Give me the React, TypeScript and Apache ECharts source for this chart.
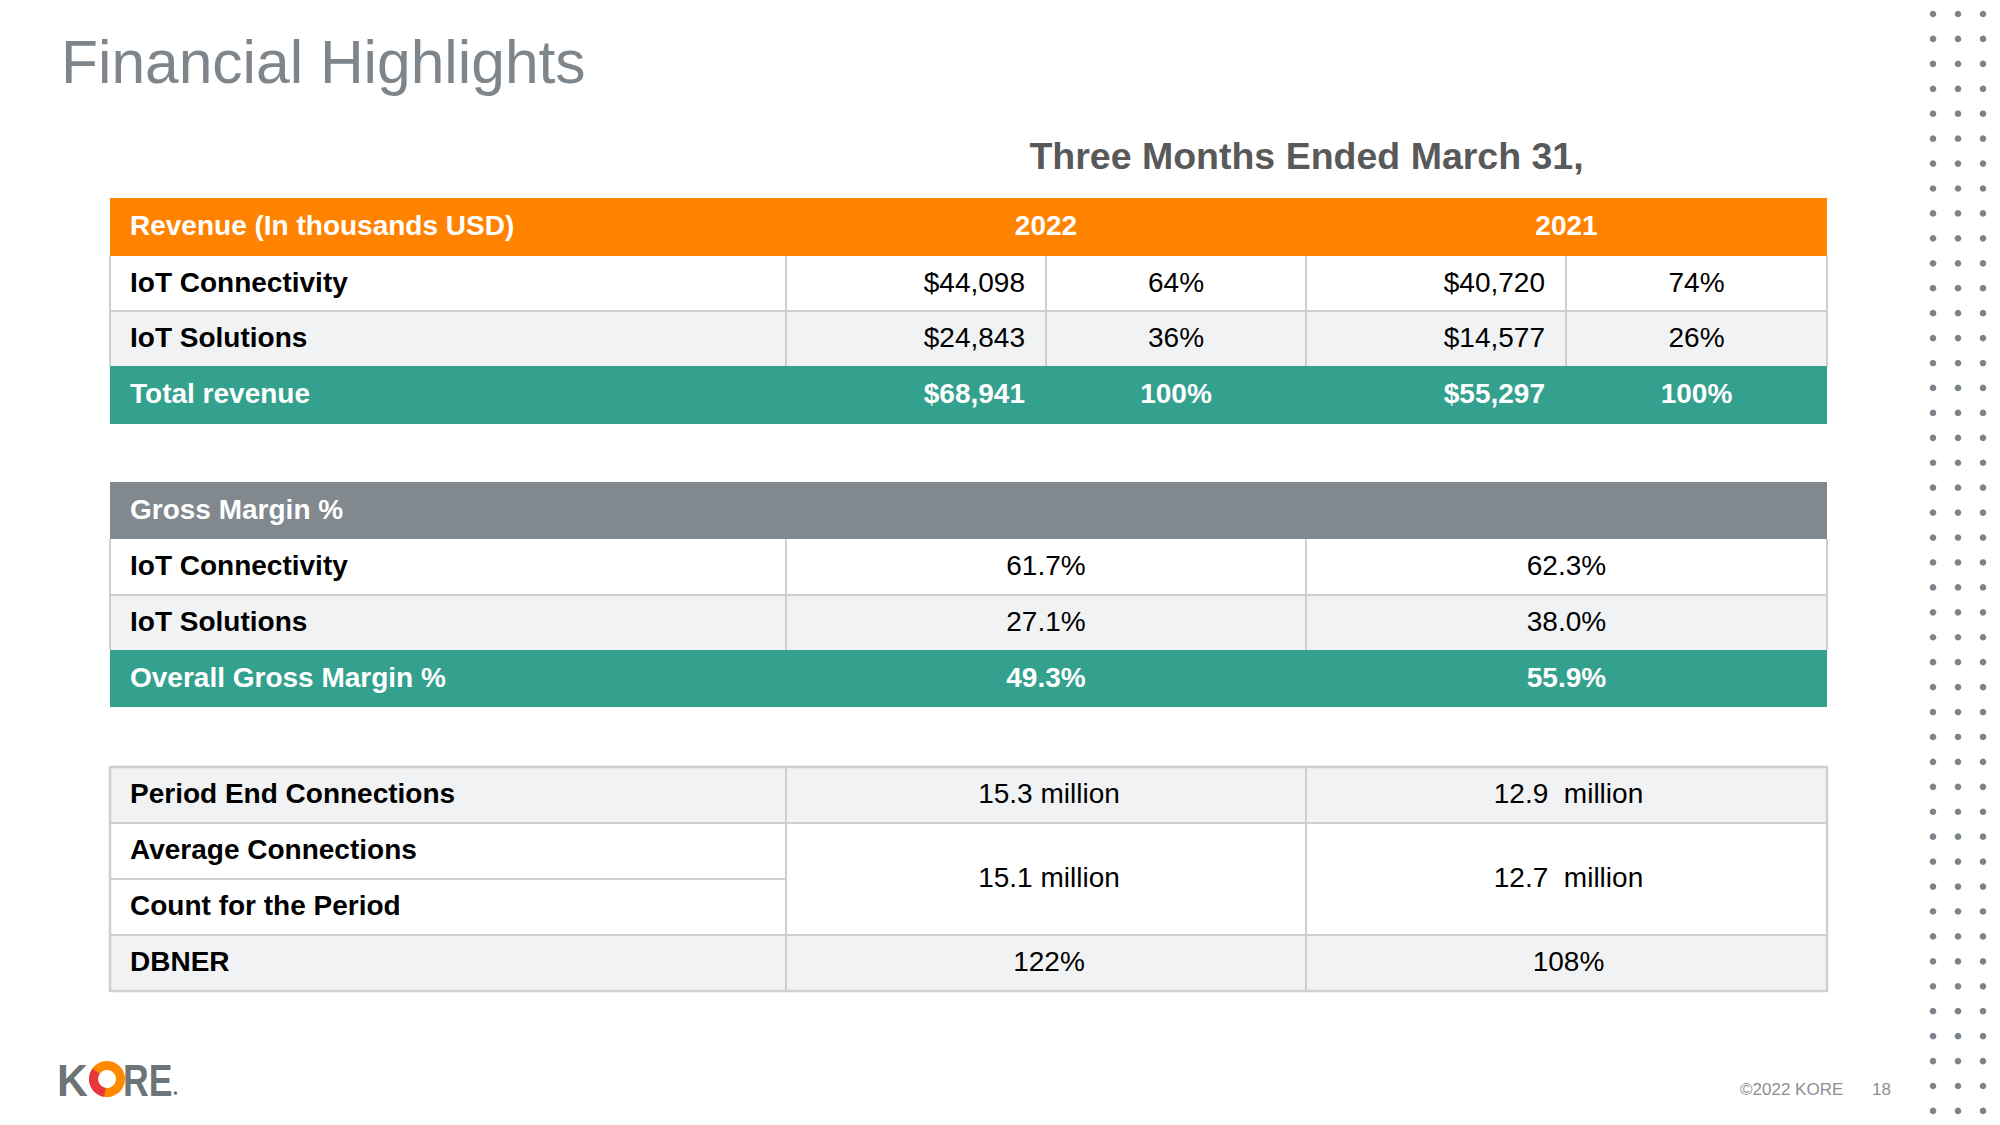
import React, { useEffect, useRef } from "react";
import * as echarts from "echarts";

// ---------- data ----------
const pageTitle = "Financial Highlights";
const periodTitle = "Three Months Ended March 31,";
const years = ["2022", "2021"];

const revenueHeader = "Revenue (In thousands USD)";
const revenueLabels = ["IoT Connectivity", "IoT Solutions", "Total revenue"];
const revenue2022 = ["$44,098", "$24,843", "$68,941"];
const share2022 = ["64%", "36%", "100%"];
const revenue2021 = ["$40,720", "$14,577", "$55,297"];
const share2021 = ["74%", "26%", "100%"];

const marginHeader = "Gross Margin %";
const marginLabels = ["IoT Connectivity", "IoT Solutions", "Overall Gross Margin %"];
const margin2022 = ["61.7%", "27.1%", "49.3%"];
const margin2021 = ["62.3%", "38.0%", "55.9%"];

const kpiLabels = ["Period End Connections", "Average Connections", "Count for the Period", "DBNER"];
const kpi2022 = ["15.3 million", "15.1 million", "122%"];
const kpi2021 = ["12.9  million", "12.7  million", "108%"];

const footerText = "©2022 KORE";
const pageNumber = "18";

// ---------- layout / style ----------
const FONT = '"Liberation Sans", Arial, Helvetica, sans-serif';
const COLS = [110, 786, 1046, 1306, 1566, 1827];
const T1 = [198, 256, 311, 366, 424];
const T2 = [482, 539, 595, 650, 707];
const T3 = [767, 823, 879, 935, 991];
const ORANGE = "#FF8300";
const TEAL = "#33A18E";
const GRAYHDR = "#81888E";
const LIGHT = "#F1F2F4";
const BORDER = "#CDCFD1";
const TXT = "#000000";
const PAD = 20;
const DY = -1.5;

function rect(x: number, y: number, w: number, h: number, fill: string) {
  return { type: "rect", silent: true, shape: { x, y, width: w, height: h }, style: { fill } };
}
function line(x1: number, y1: number, x2: number, y2: number, w = 2) {
  return { type: "line", silent: true, shape: { x1, y1, x2, y2 }, style: { stroke: BORDER, lineWidth: w } };
}
function text(x: number, y: number, str: string, size: number, color: string, bold: boolean, align = "left", extra: any = {}) {
  return {
    type: "text",
    silent: true,
    x,
    y,
    ...extra,
    style: {
      text: str,
      fill: color,
      font: `${bold ? "bold " : ""}${size}px ${FONT}`,
      textAlign: align,
      align,
      textVerticalAlign: "middle",
      verticalAlign: "middle",
    },
  };
}
const mid = (a: number, b: number) => (a + b) / 2 + DY;

function buildElements() {
  const els: any[] = [];
  const W = COLS[5] - COLS[0];

  // titles
  els.push(text(61, 62, pageTitle, 60.5, "#7F868B", false));
  els.push(text((COLS[1] + COLS[5]) / 2, 156, periodTitle, 37.5, "#595959", true, "center"));

  // ---------- table 1 : revenue ----------
  els.push(rect(COLS[0], T1[0], W, T1[1] - T1[0], ORANGE));
  els.push(rect(COLS[0], T1[1], W, T1[2] - T1[1], "#FFFFFF"));
  els.push(rect(COLS[0], T1[2], W, T1[3] - T1[2], LIGHT));
  els.push(rect(COLS[0], T1[3], W, T1[4] - T1[3], TEAL));
  COLS.forEach((c) => els.push(line(c, T1[1], c, T1[3])));
  els.push(line(COLS[0], T1[2], COLS[5], T1[2]));
  els.push(text(COLS[0] + PAD, mid(T1[0], T1[1]), revenueHeader, 28, "#FFFFFF", true));
  els.push(text((COLS[1] + COLS[3]) / 2, mid(T1[0], T1[1]), years[0], 28, "#FFFFFF", true, "center"));
  els.push(text((COLS[3] + COLS[5]) / 2, mid(T1[0], T1[1]), years[1], 28, "#FFFFFF", true, "center"));
  revenueLabels.forEach((lab, i) => {
    const y = mid(T1[i + 1], T1[i + 2]);
    const total = i === revenueLabels.length - 1;
    const col = total ? "#FFFFFF" : TXT;
    els.push(text(COLS[0] + PAD, y, lab, 28, col, true));
    els.push(text(COLS[2] - 21, y, revenue2022[i], 28, col, total, "right"));
    els.push(text((COLS[2] + COLS[3]) / 2, y, share2022[i], 28, col, total, "center"));
    els.push(text(COLS[4] - 21, y, revenue2021[i], 28, col, total, "right"));
    els.push(text((COLS[4] + COLS[5]) / 2, y, share2021[i], 28, col, total, "center"));
  });

  // ---------- table 2 : gross margin ----------
  els.push(rect(COLS[0], T2[0], W, T2[1] - T2[0], GRAYHDR));
  els.push(rect(COLS[0], T2[1], W, T2[2] - T2[1], "#FFFFFF"));
  els.push(rect(COLS[0], T2[2], W, T2[3] - T2[2], LIGHT));
  els.push(rect(COLS[0], T2[3], W, T2[4] - T2[3], TEAL));
  [COLS[0], COLS[1], COLS[3], COLS[5]].forEach((c) => els.push(line(c, T2[1], c, T2[3])));
  els.push(line(COLS[0], T2[2], COLS[5], T2[2]));
  els.push(text(COLS[0] + PAD, mid(T2[0], T2[1]), marginHeader, 28, "#FFFFFF", true));
  marginLabels.forEach((lab, i) => {
    const y = mid(T2[i + 1], T2[i + 2]);
    const total = i === marginLabels.length - 1;
    const col = total ? "#FFFFFF" : TXT;
    els.push(text(COLS[0] + PAD, y, lab, 28, col, true));
    els.push(text((COLS[1] + COLS[3]) / 2, y, margin2022[i], 28, col, total, "center"));
    els.push(text((COLS[3] + COLS[5]) / 2, y, margin2021[i], 28, col, total, "center"));
  });

  // ---------- table 3 : connections ----------
  els.push(rect(COLS[0], T3[0], W, T3[1] - T3[0], LIGHT));
  els.push(rect(COLS[0], T3[1], W, T3[3] - T3[1], "#FFFFFF"));
  els.push(rect(COLS[0], T3[3], W, T3[4] - T3[3], LIGHT));
  els.push(line(COLS[0], T3[1], COLS[5], T3[1]));
  els.push(line(COLS[0], T3[2], COLS[1], T3[2]));
  els.push(line(COLS[0], T3[3], COLS[5], T3[3]));
  els.push(line(COLS[1], T3[0], COLS[1], T3[4]));
  els.push(line(COLS[3], T3[0], COLS[3], T3[4]));
  els.push({
    type: "rect",
    silent: true,
    shape: { x: COLS[0], y: T3[0], width: W, height: T3[4] - T3[0] },
    style: { fill: "none", stroke: BORDER, lineWidth: 2.5 },
  });
  kpiLabels.forEach((lab, i) => {
    els.push(text(COLS[0] + PAD, mid(T3[i], T3[i + 1]), lab, 28, TXT, true));
  });
  const kpiY = [mid(T3[0], T3[1]), mid(T3[1], T3[3]), mid(T3[3], T3[4])];
  kpi2022.forEach((v, i) => els.push(text((COLS[1] + COLS[3]) / 2 + 3, kpiY[i], v, 28, TXT, false, "center")));
  kpi2021.forEach((v, i) => els.push(text((COLS[3] + COLS[5]) / 2 + 2, kpiY[i], v, 28, TXT, false, "center")));

  // ---------- footer ----------
  els.push(text(1740, 1089, footerText, 17, "#8A8F93", false));
  els.push(text(1872, 1089, pageNumber, 17, "#8A8F93", false));

  // ---------- logo ----------
  const logoGray = "#6D7478";
  els.push(text(57, 1080, "K", 45, logoGray, true, "left", { scaleX: 0.95 }));
  els.push({ type: "ring", silent: true, shape: { cx: 107, cy: 1079, r: 18, r0: 9 }, style: { fill: "#FF8A00" } });
  els.push({
    type: "sector",
    silent: true,
    shape: { cx: 107, cy: 1079, r: 18, r0: 9, startAngle: Math.PI * 0.55, endAngle: Math.PI * 1.2, clockwise: true },
    style: { fill: "#E8363C" },
  });
  els.push(text(123, 1080, "RE", 45, logoGray, true, "left", { scaleX: 0.79 }));
  els.push({ type: "circle", silent: true, shape: { cx: 175.5, cy: 1093, r: 1.8 }, style: { fill: logoGray } });

  // ---------- decorative dots ----------
  for (let r = 0; r < 45; r++) {
    for (let c = 0; c < 3; c++) {
      els.push({
        type: "circle",
        silent: true,
        shape: { cx: 1933 + c * 25, cy: 14 + r * 24.93, r: 3.3 },
        style: { fill: "#7B848A" },
      });
    }
  }
  return els;
}

export default function App() {
  const ref = useRef<HTMLDivElement>(null);
  useEffect(() => {
    if (!ref.current) return;
    const chart = echarts.init(ref.current, null, { renderer: "svg" });
    chart.setOption({
      animation: false,
      backgroundColor: "#FFFFFF",
      graphic: { elements: buildElements() },
    });
    return () => chart.dispose();
  }, []);
  return (
    <div
      ref={ref}
      style={{ position: "fixed", left: 0, top: 0, width: "2000px", height: "1125px", background: "#FFFFFF" }}
    />
  );
}
